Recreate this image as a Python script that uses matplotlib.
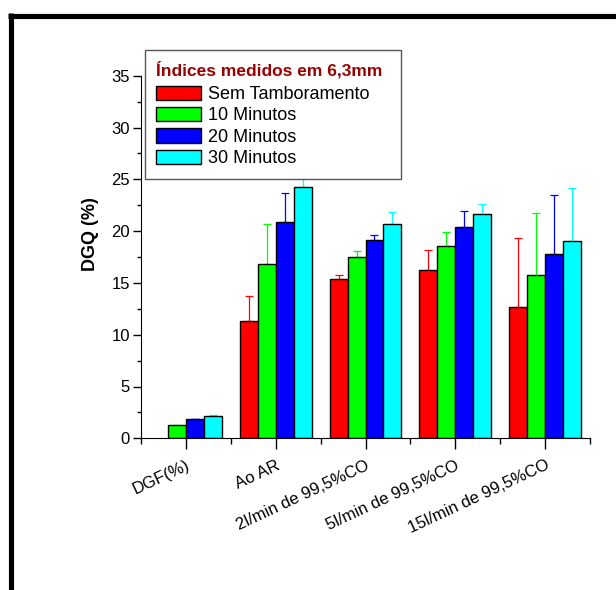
import matplotlib
matplotlib.use("Agg")
import matplotlib.pyplot as plt
import numpy as np
from matplotlib.lines import Line2D
from matplotlib.patches import Rectangle
from matplotlib.ticker import MultipleLocator, FixedLocator

plt.rcParams['font.family'] = ['Liberation Sans', 'DejaVu Sans']

categories = ["DGF(%)", "Ao AR", "2l/min de 99,5%CO", "5l/min de 99,5%CO", "15l/min de 99,5%CO"]
series_names = ["Sem Tamboramento", "10 Minutos", "20 Minutos", "30 Minutos"]
colors = ["#ff0000", "#00ff00", "#0000ff", "#00ffff"]

sem_tamb = [0.0, 11.3, 15.35, 16.27, 12.7]
min10 = [1.3, 16.8, 17.5, 18.6, 15.75]
min20 = [1.86, 20.9, 19.1, 20.4, 17.8]
min30 = [2.15, 24.3, 20.66, 21.62, 19.0]

err_sem = [0.0, 2.4, 0.45, 1.9, 6.6]
err_10 = [0.0, 3.9, 0.55, 1.3, 6.0]
err_20 = [0.05, 2.8, 0.5, 1.55, 5.7]
err_30 = [0.1, 2.0, 1.2, 0.95, 5.15]

values = [sem_tamb, min10, min20, min30]
errors = [err_sem, err_10, err_20, err_30]
title = "Índices medidos em 6,3mm"
ylabel = "DGQ (%)"

W, H = 616, 590
fig = plt.figure(figsize=(W/100, H/100), dpi=100)
ax = fig.add_axes([141/W, 1-438.3/H, (590-141)/W, (438.3-75.7)/H])

x = np.arange(len(categories))
w = 0.2
for i, (vals, errs, c, name) in enumerate(zip(values, errors, colors, series_names)):
    pos = x + (i - 1.5) * w
    v = np.array(vals)
    mask = v > 0
    ax.bar(pos[mask], v[mask], width=w, color=c, edgecolor='black', linewidth=1.0,
           label=name, zorder=2)
    e = np.array(errs)
    ax.errorbar(pos[mask], v[mask], yerr=[np.zeros(mask.sum()), e[mask]], fmt='none',
                ecolor=c, elinewidth=0.9, capsize=2.6, capthick=0.9, zorder=1)

ax.set_xlim(-0.5, 4.5)
ax.set_ylim(0, 35)
ax.spines['top'].set_visible(False)
ax.spines['right'].set_visible(False)
ax.set_xticks(x)
ax.set_xticklabels(categories, rotation=25, ha='right', rotation_mode='anchor', fontsize=12)
ax.xaxis.set_minor_locator(FixedLocator(np.arange(-0.5, 4.6, 1.0)))
ax.yaxis.set_major_locator(MultipleLocator(5))
ax.yaxis.set_minor_locator(MultipleLocator(2.5))
ax.tick_params(axis='x', which='major', length=8, width=1, pad=6)
ax.tick_params(axis='x', which='minor', length=4, width=1)
ax.tick_params(axis='y', which='major', length=6, width=1, labelsize=12, pad=2)
ax.tick_params(axis='y', which='minor', length=3, width=1)
ax.set_ylabel(ylabel, fontsize=13, fontweight='bold')
ax.yaxis.set_label_coords((99-141)/449, (438.3-234)/362.6)

# legend frame
fig.add_artist(Rectangle((145/W, 1-179/H), (401-145)/W, (179-50)/H, transform=fig.transFigure,
                         facecolor='white', edgecolor='#555555', linewidth=1.0, zorder=9))

handles, labels = ax.get_legend_handles_labels()
leg = ax.legend(handles, labels, title=title, loc='upper left',
                bbox_to_anchor=(156/W, 1-61.5/H), bbox_transform=fig.transFigure,
                fontsize=13, title_fontproperties={'weight': 'bold', 'size': 12.5},
                alignment='left', handlelength=2.5, handleheight=0.85, handletextpad=0.4,
                labelspacing=0.22, borderpad=0, borderaxespad=0, frameon=False)
leg.get_title().set_color('#990000')
leg._legend_box.sep = 4.7
leg.remove()
fig.add_artist(leg)
leg.set_zorder(10)

# figure border (top and left)
fig.add_artist(Line2D([8/W, 1.0], [1-15.5/H, 1-15.5/H], transform=fig.transFigure,
                      color='black', linewidth=3.7, solid_capstyle='butt'))
fig.add_artist(Line2D([10.5/W, 10.5/W], [1-13/H, 0], transform=fig.transFigure,
                      color='black', linewidth=3.7, solid_capstyle='butt'))

fig.savefig("out.png", dpi=100)
